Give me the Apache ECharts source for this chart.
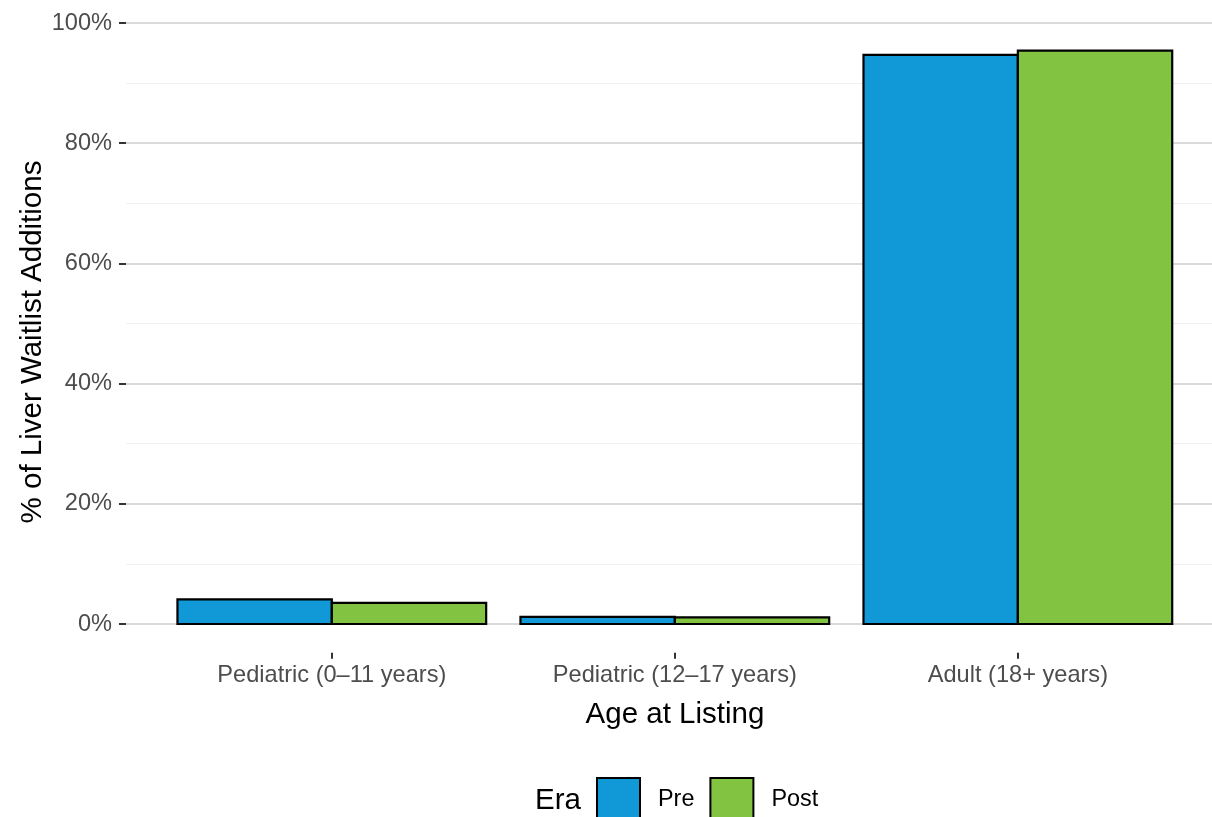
<!DOCTYPE html>
<html>
<head>
<meta charset="utf-8">
<script src="https://cdn.jsdelivr.net/npm/echarts@6/dist/echarts.min.js"></script>
<style>
html,body{margin:0;padding:0;background:#fff;}
#main{width:1212px;height:817px;}
</style>
</head>
<body>
<div id="main"></div>
<script>
const categories = ['Pediatric (0\u201311 years)', 'Pediatric (12\u201317 years)', 'Adult (18+ years)'];
const seriesNames = ['Pre', 'Post'];
const preValues = [4.1, 1.2, 94.7];
const postValues = [3.5, 1.1, 95.4];
const yTicks = [0, 20, 40, 60, 80, 100];

const FONT = '"Liberation Sans", Arial, Helvetica, sans-serif';
const colors = {Pre: '#1198D6', Post: '#82C341'};

function makeRender(side) {
  return function (params, api) {
    const cat = api.value(0);
    const val = api.value(1);
    const x0 = side === 0 ? cat - 0.45 : cat;
    const x1 = side === 0 ? cat : cat + 0.45;
    const p0 = api.coord([x0, val]);
    const p1 = api.coord([x1, 0]);
    return {
      type: 'rect',
      shape: {x: p0[0], y: p0[1], width: p1[0] - p0[0], height: p1[1] - p0[1]},
      style: {fill: api.visual('color'), stroke: '#000', lineWidth: 2.2}
    };
  };
}

const chart = echarts.init(document.getElementById('main'), null, {renderer: 'canvas'});
chart.setOption({
  animation: false,
  backgroundColor: '#fff',
  textStyle: {fontFamily: FONT},
  grid: [
    {left: 126, right: 0, top: 23, bottom: 193, containLabel: false},
    {left: 126, right: 0, top: 23, bottom: 164.3, containLabel: false}
  ],
  xAxis: [
    {
      gridIndex: 0, type: 'value', min: 0.4, max: 3.566,
      axisLine: {show: false}, splitLine: {show: false},
      axisTick: {show: false}, axisLabel: {show: false}
    },
    {
      gridIndex: 1, type: 'value', min: 0.4, max: 3.566,
      axisLine: {show: false},
      splitLine: {show: false},
      axisTick: {show: true, length: 6, lineStyle: {color: '#333', width: 2}, customValues: [1, 2, 3]},
      axisLabel: {
        customValues: [1, 2, 3],
        margin: 11, fontSize: 23.6, color: '#4d4d4d', fontFamily: FONT,
        formatter: v => categories[Math.round(v) - 1] || ''
      }
    }
  ],
  yAxis: [
    {
      gridIndex: 0, type: 'value', min: 0, max: 100, interval: 20,
      axisLine: {show: false},
      axisTick: {show: true, length: 7, lineStyle: {color: '#333', width: 2}},
      axisLabel: {margin: 14, fontSize: 23.6, color: '#4d4d4d', fontFamily: FONT, formatter: v => v + '%'},
      splitLine: {show: true, lineStyle: {color: '#dadada', width: 2}},
      minorTick: {show: false, splitNumber: 2},
      minorSplitLine: {show: true, lineStyle: {color: '#f0f0f0', width: 1}}
    },
    {
      gridIndex: 1, type: 'value', min: 0, max: 1,
      show: false
    }
  ],
  legend: {
    data: seriesNames.map(n => ({name: n, icon: 'rect', itemStyle: {borderColor: '#000', borderWidth: 2}})),
    left: 596, top: 777, padding: 0,
    itemWidth: 43, itemHeight: 43, itemGap: 15,
    textStyle: {fontSize: 23.4, color: '#000', fontFamily: FONT, padding: [3, 0, 0, 13]},
    selectedMode: false
  },
  graphic: [
    {type: 'text', x: 675, y: 715, style: {text: 'Age at Listing', fill: '#000', font: '29.5px ' + FONT, textAlign: 'center', textVerticalAlign: 'middle'}},
    {type: 'text', x: 33, y: 342, rotation: Math.PI / 2, style: {text: '% of Liver Waitlist Additions', fill: '#000', font: '29.5px ' + FONT, textAlign: 'center', textVerticalAlign: 'middle'}},
    {type: 'text', x: 558, y: 801, style: {text: 'Era', fill: '#000', font: '29.5px ' + FONT, textAlign: 'center', textVerticalAlign: 'middle'}}
  ],
  series: [
    {name: 'Pre', type: 'custom', xAxisIndex: 0, yAxisIndex: 0, itemStyle: {color: colors.Pre, borderColor: '#000'}, renderItem: makeRender(0),
     encode: {x: 0, y: 1}, data: preValues.map((v, i) => [i + 1, v])},
    {name: 'Post', type: 'custom', xAxisIndex: 0, yAxisIndex: 0, itemStyle: {color: colors.Post, borderColor: '#000'}, renderItem: makeRender(1),
     encode: {x: 0, y: 1}, data: postValues.map((v, i) => [i + 1, v])}
  ]
});
</script>
</body>
</html>
